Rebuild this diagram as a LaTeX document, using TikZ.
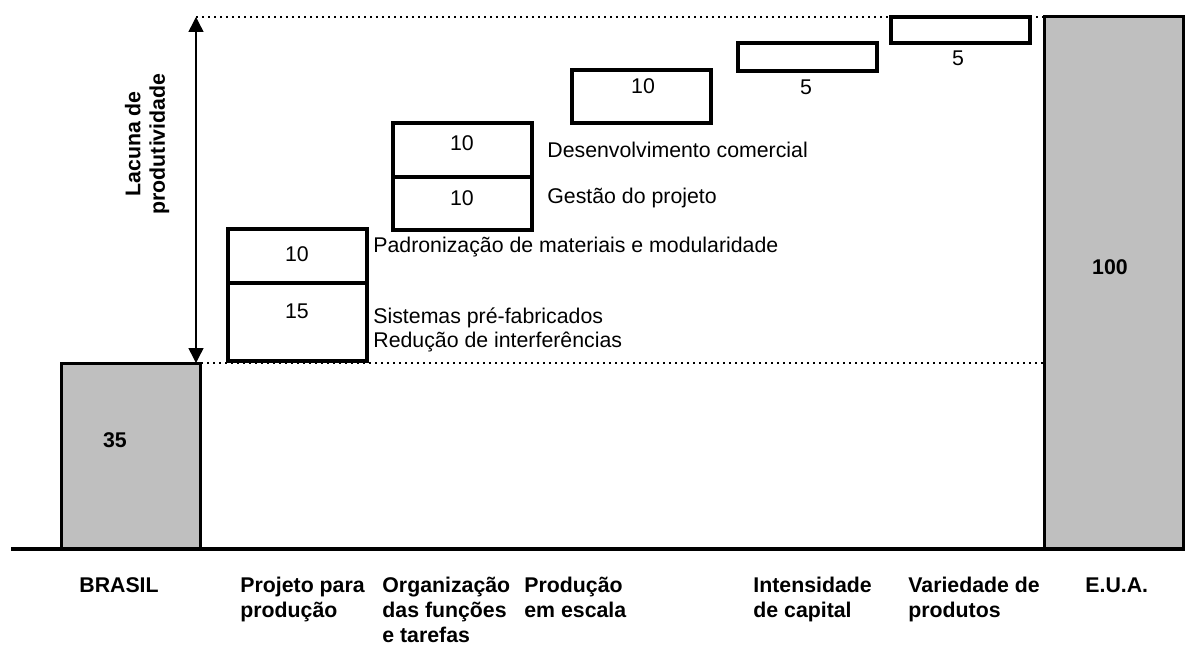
\documentclass[tikz,border=0pt]{standalone}
\usepackage{fontspec}
\setmainfont{Liberation Sans}
\usetikzlibrary{arrows.meta}
\newcommand{\barcolor}{black!25}
\newcommand{\txtsize}{\fontsize{10.65}{12.25}\selectfont}
\newcommand{\catrows}[1]{\renewcommand{\arraystretch}{1.03}\begin{tabular}[t]{@{}l@{}}#1\end{tabular}}

\begin{document}
\begin{tikzpicture}[x=0.5pt,y=-0.5pt,font=\txtsize,
	lbl/.style={inner sep=0,anchor=west},
	num/.style={inner sep=0},
	catlbl/.style={inner sep=0,anchor=base west,font=\txtsize\bfseries},
	box/.style={draw=black,line width=1.6pt},
	bar/.style={draw=black,line width=1.5pt,fill=\barcolor},
	level/.style={line width=1pt,dash pattern=on 1pt off 2pt}]
				\useasboundingbox (0,0) rectangle (1185,647);
				% gap levels
				\draw[level] (183,363) -- (1044,363);
				\draw[level] (196,17) -- (1044,17);

				\draw[bar] (61,549) rectangle (200,363);
				\draw[bar] (1044,549) rectangle (1183,17);
				\draw[line width=1.75pt] (11,549) -- (1185,549);
				\node [num,font=\txtsize\bfseries] at (115,440) (br) {35};
				\node [num,font=\txtsize\bfseries] at (1110,267) (us) {100};

				\coordinate (gtop) at (196,17);
				\coordinate (gbot) at (196,363);
				\draw [{Triangle[length=7.5pt,width=7.5pt]}-{Triangle[length=7.5pt,width=7.5pt]}, line width=0.75pt] (gtop) -- (gbot);
				\node [rotate=90, align=center, inner sep=0, font=\txtsize\bfseries] at (147,144) (gap) {Lacuna de\\produtividade};

				% steps
				\draw[box] (228,229) rectangle (367,361);
				\draw[box] (228,283) -- (367,283);
				\draw[box] (393,123) rectangle (532,230);
				\draw[box] (393,177) -- (532,177);
				\draw[box] (572,70) rectangle (711,123);
				\draw[box] (738,43) rectangle (877,71);
				\draw[box] (891,17) rectangle (1030,43);

				\node [num] at (297,254) (s1a) {10};
				\node [num] at (297,311) (s1b) {15};
				\node [num] at (462,143) (s2a) {10};
				\node [num] at (462,198) (s2b) {10};
				\node [num] at (643,86) (s3) {10};
				\node [num] at (806,87) (s4) {5};
				\node [num] at (958,58) (s5) {5};

				\node [lbl] at (373,247) (t1a) {Padronização de materiais e modularidade};
				\node [lbl] at (373,318) (t1b) {Sistemas pré-fabricados};
				\node [lbl] at (373,342) (t1c) {Redução de interferências};
				\node [lbl] at (547,150) (t2a) {Desenvolvimento comercial};
				\node [lbl] at (547,198) (t2b) {Gestão do projeto};

				% categories
				\node [catlbl] at (79,592) (c0) {\catrows{BRASIL}};
				\node [catlbl] at (240,592) (c1) {\catrows{Projeto para\\produção}};
				\node [catlbl] at (382,592) (c2) {\catrows{Organização\\das funções\\e tarefas}};
				\node [catlbl] at (524,592) (c3) {\catrows{Produção\\em escala}};
				\node [catlbl] at (753,592) (c4) {\catrows{Intensidade\\de capital}};
				\node [catlbl] at (908,592) (c5) {\catrows{Variedade de\\produtos}};
				\node [catlbl] at (1085,592) (c6) {\catrows{E.U.A.}};
\end{tikzpicture}
\end{document}
